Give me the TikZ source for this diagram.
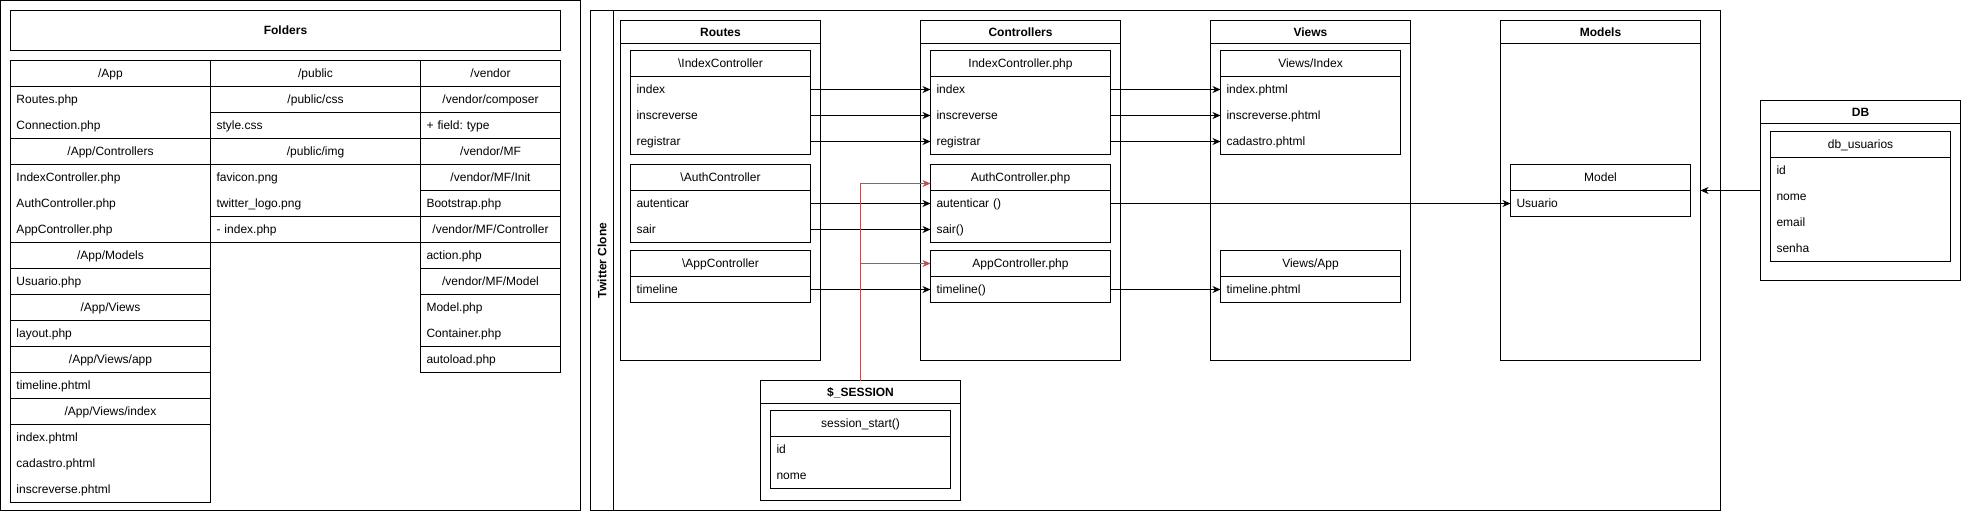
\documentclass[tikz,border=0pt]{standalone}
\usepackage{fontspec}
\setmainfont{Liberation Sans}
\usetikzlibrary{arrows.meta,calc}
\definecolor{redline}{HTML}{B85450}
\frenchspacing
\newcommand\fs{\fontsize{12}{14.4}\selectfont}
\newcommand\ulist[7]{%
  \pgfmathsetmacro\lh{26*(#5+1)}%
  \pgfmathsetmacro\tw{#4-12}%
  \node[boxst, minimum width=#4pt, minimum height=\lh pt] (#1) at (#2,#3) {};
  \node[hdst, minimum width=#4pt] (#1-h) at (#2,#3) {#6};
  \foreach \t [count=\i] in {#7} {\node[rowst, text width=\tw pt] (#1-\i) at (#2,#3+13+26*\i) {\t};}
}
\newcommand\ucont[7]{%
  \node[boxst, minimum width=#4pt, minimum height=#5pt] (#1) at (#2,#3) {};
  \node[hdst, minimum width=#4pt, minimum height=#6pt, font=\fs\bfseries] (#1-h) at (#2,#3) {#7};
}
\begin{document}
\begin{tikzpicture}[x=1pt,y=-1pt,line width=1pt,
  every node/.style={inner sep=0pt,outer sep=0pt,font=\fs},
  boxst/.style={draw,anchor=north west},
  hdst/.style={draw,anchor=north west,minimum height=26pt,text height=8.6pt,text depth=0pt,align=center},
  rowst/.style={anchor=west,inner xsep=6pt,align=left,minimum height=26pt,text height=8.6pt,text depth=0pt},
  arr/.style={-{Stealth[length=8pt,width=7pt,inset=2.5pt]}}]
\useasboundingbox (-0.5,-0.5) rectangle (1960.5,510.5);

% ---------- Folders ----------
\node[boxst, minimum width=580pt, minimum height=510pt] (fold) at (0,0) {};
\node[hdst, minimum width=550pt, minimum height=40pt, font=\fs\bfseries] (foldt) at (10,10) {Folders};

\ulist{a1}{10}{60}{200}{2}{/App}{Routes.php, Connection.php}
\ulist{a2}{10}{138}{200}{3}{/App/Controllers}{IndexController.php, AuthController.php, AppController.php}
\ulist{a3}{10}{242}{200}{1}{/App/Models}{Usuario.php}
\ulist{a4}{10}{294}{200}{1}{/App/Views}{layout.php}
\ulist{a5}{10}{346}{200}{1}{/App/Views/app}{timeline.phtml}
\ulist{a6}{10}{398}{200}{3}{/App/Views/index}{index.phtml, cadastro.phtml, inscreverse.phtml}

\node[boxst, minimum width=210pt, minimum height=182pt] (pub) at (210,60) {};
\node[hdst, minimum width=210pt] (pub-h) at (210,60) {/public};
\ulist{pcss}{210}{86}{210}{1}{/public/css}{style.css}
\ulist{pimg}{210}{138}{210}{2}{/public/img}{favicon.png, twitter\_logo.png}
\node[rowst, text width=198pt] (pubidx) at (210,229) {- index.php};

\node[boxst, minimum width=140pt, minimum height=312pt] (ven) at (420,60) {};
\node[hdst, minimum width=140pt] (ven-h) at (420,60) {/vendor};
\ulist{vcomp}{420}{86}{140}{1}{/vendor/composer}{+ field: type}
\node[boxst, minimum width=140pt, minimum height=234pt] (vmf) at (420,138) {};
\node[hdst, minimum width=140pt] (vmf-h) at (420,138) {/vendor/MF};
\ulist{vinit}{420}{164}{140}{1}{/vendor/MF/Init}{Bootstrap.php}
\ulist{vctrl}{420}{216}{140}{1}{/vendor/MF/Controller}{action.php}
\ulist{vmodel}{420}{268}{140}{2}{/vendor/MF/Model}{Model.php, Container.php}
\node[rowst, text width=128pt] (vauto) at (420,359) {autoload.php};

% ---------- Twitter Clone ----------
\node[boxst, minimum width=1130pt, minimum height=500pt] (tw) at (590,10) {};
\node[boxst, minimum width=23pt, minimum height=500pt] (tw-h) at (590,10) {};
\node[rotate=90, font=\fs\bfseries, text height=8.6pt, text depth=0pt] (tw-t) at (601.5,260) {Twitter Clone};

\ucont{routes}{620}{20}{200}{340}{23}{Routes}
\ucont{ctrls}{920}{20}{200}{340}{23}{Controllers}
\ucont{views}{1210}{20}{200}{340}{23}{Views}
\ucont{models}{1500}{20}{200}{340}{23}{Models}
\ucont{sess}{760}{380}{200}{120}{23}{\$\_SESSION}
\ucont{db}{1760}{100}{200}{180}{23}{DB}

\ulist{ri}{630}{50}{180}{3}{\textbackslash IndexController}{index, inscreverse, registrar}
\ulist{ra}{630}{164}{180}{2}{\textbackslash AuthController}{autenticar, sair}
\ulist{rp}{630}{250}{180}{1}{\textbackslash AppController}{timeline}
\ulist{ci}{930}{50}{180}{3}{IndexController.php}{index, inscreverse, registrar}
\ulist{ca}{930}{164}{180}{2}{AuthController.php}{autenticar (), sair()}
\ulist{cp}{930}{250}{180}{1}{AppController.php}{timeline()}
\ulist{vi}{1220}{50}{180}{3}{Views/Index}{index.phtml, inscreverse.phtml, cadastro.phtml}
\ulist{vp}{1220}{250}{180}{1}{Views/App}{timeline.phtml}
\ulist{mm}{1510}{164}{180}{1}{Model}{Usuario}
\ulist{ss}{770}{410}{180}{2}{session\_start()}{id, nome}
\ulist{du}{1770}{131}{180}{4}{db\_usuarios}{id, nome, email, senha}

% ---------- connectors ----------
\draw[arr] (ri-1.east) -- (ci-1.west);
\draw[arr] (ri-2.east) -- (ci-2.west);
\draw[arr] (ri-3.east) -- (ci-3.west);
\draw[arr] (ra-1.east) -- (ca-1.west);
\draw[arr] (ra-2.east) -- (ca-2.west);
\draw[arr] (rp-1.east) -- (cp-1.west);
\draw[arr] (ci-1.east) -- (vi-1.west);
\draw[arr] (ci-2.east) -- (vi-2.west);
\draw[arr] (ci-3.east) -- (vi-3.west);
\draw[arr] (ca-1.east) -- (mm-1.west);
\draw[arr] (cp-1.east) -- (vp-1.west);
\draw[arr] (db.west) -- (models.east);
\draw[arr, redline] (sess.north) |- ([yshift=-6pt]ca-h.west);
\draw[arr, redline] (sess.north) |- (cp-h.west);
\end{tikzpicture}
\end{document}
